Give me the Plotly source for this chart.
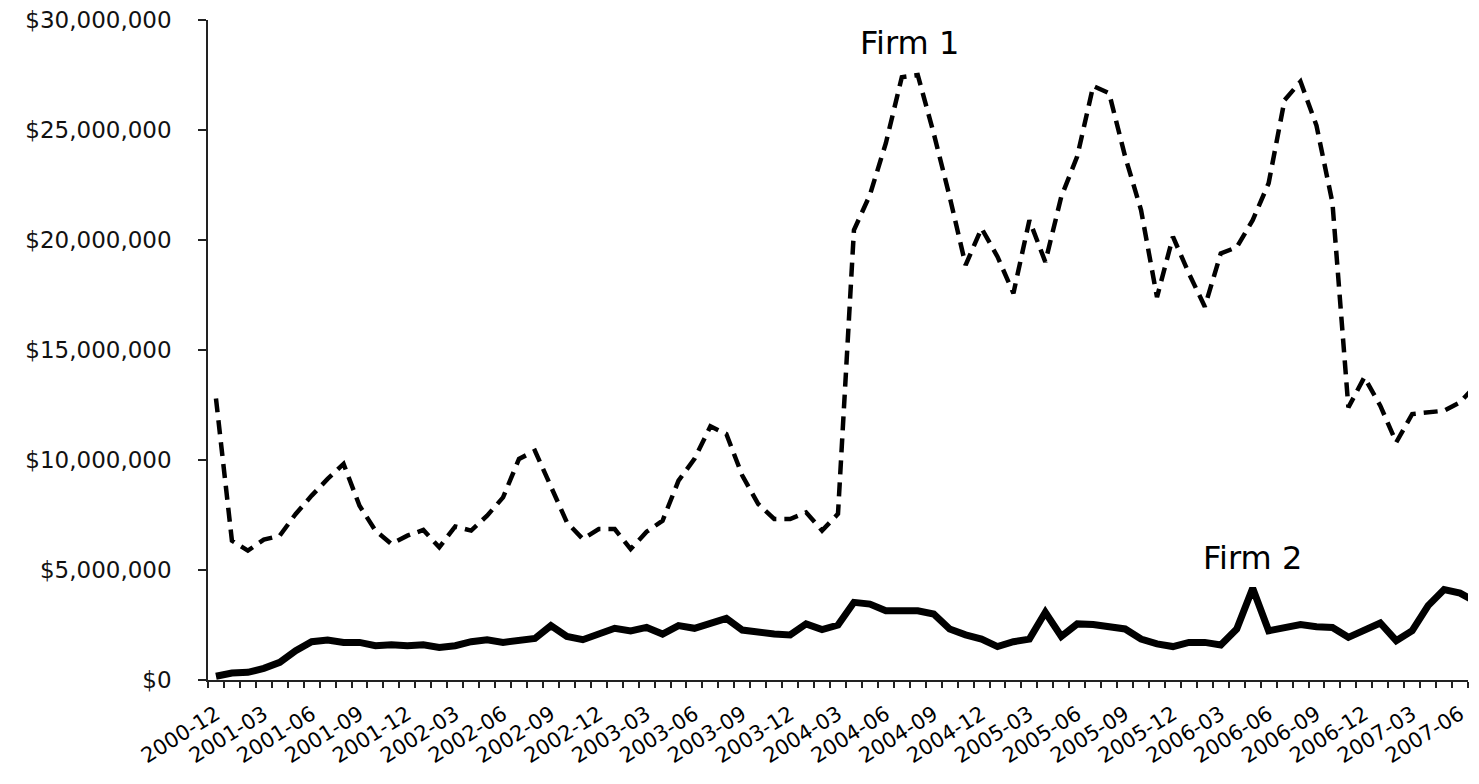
import plotly.graph_objects as go

# Monthly periods, 2000-12 through 2007-07 (last one only partly visible at the right edge)
months = [f"{2000 + (11 + k) // 12}-{(11 + k) % 12 + 1:02d}" for k in range(80)]

# Values in millions of dollars
firm1_m = [12.8, 6.33, 5.88, 6.38, 6.56, 7.55, 8.38, 9.14, 9.82, 7.92,
           6.79, 6.18, 6.56, 6.82, 6.03, 6.98, 6.79, 7.47, 8.30, 10.05,
           10.42, 8.83, 7.17, 6.41, 6.86, 6.86, 5.95, 6.74, 7.24, 9.06,
           10.05, 11.53, 11.18, 9.29, 8.00, 7.32, 7.32, 7.62, 6.79, 7.55,
           20.45, 22.05, 24.4, 27.4, 27.5, 24.85, 21.97, 18.86, 20.53, 19.24,
           17.58, 20.9, 19.0, 21.97, 23.8, 27.0, 26.67, 23.8, 21.36, 17.4,
           20.15, 18.48, 16.97, 19.39, 19.67, 20.9, 22.58, 26.36, 27.2, 25.2,
           21.7, 12.39, 13.76, 12.47, 10.8, 12.09, 12.17, 12.24, 12.62, 13.4]

firm2_m = [0.17, 0.32, 0.35, 0.53, 0.80, 1.33, 1.74, 1.82, 1.71, 1.71,
           1.56, 1.60, 1.56, 1.60, 1.48, 1.56, 1.74, 1.83, 1.71, 1.83,
           1.89, 2.47, 1.98, 1.83, 2.07, 2.35, 2.23, 2.39, 2.09, 2.47,
           2.35, 2.59, 2.80, 2.27, 2.15, 2.09, 2.05, 2.55, 2.29, 2.50,
           3.53, 3.45, 3.15, 3.15, 3.15, 3.00, 2.32, 2.05, 1.86, 1.52,
           1.74, 1.86, 3.08, 1.98, 2.55, 2.52, 2.44, 2.32, 1.86, 1.64,
           1.52, 1.71, 1.71, 1.59, 2.32, 4.17, 2.24, 2.42, 2.52, 2.42,
           2.39, 1.94, 2.27, 2.59, 1.79, 2.24, 3.38, 4.11, 3.95, 3.55]

series_names = ["Firm 1", "Firm 2"]
y_ticks = [0, 5e6, 10e6, 15e6, 20e6, 25e6, 30e6]
y_tick_text = ["$" + f"{v:,.0f}" for v in y_ticks]

x_idx = list(range(len(months)))
label_idx = list(range(0, 79, 3))
label_txt = [months[i] for i in label_idx]

FONT = "DejaVu Sans"

fig = go.Figure()
fig.add_trace(go.Scatter(
    x=x_idx, y=[v * 1e6 for v in firm1_m], mode="lines", name=series_names[0],
    line=dict(color="black", width=4.5, dash="14px,8px"), showlegend=False))
fig.add_trace(go.Scatter(
    x=x_idx, y=[v * 1e6 for v in firm2_m], mode="lines", name=series_names[1],
    line=dict(color="black", width=7), showlegend=False))

fig.add_annotation(x=43.5, y=28.95e6, text=series_names[0], showarrow=False,
                   font=dict(family=FONT, size=32, color="black"))
fig.add_annotation(x=65.0, y=5.55e6, text=series_names[1], showarrow=False,
                   font=dict(family=FONT, size=32, color="black"))

# the page body adds an 8px offset, so margins are trimmed on the top/left
fig.update_layout(
    width=1479, height=784,
    margin=dict(l=200, r=19, t=12, b=112),
    paper_bgcolor="white", plot_bgcolor="white",
    font=dict(family=FONT, color="black"),
)
fig.update_xaxes(
    range=[-0.5, 78.5], showgrid=False, zeroline=False, automargin=False,
    showline=True, linecolor="#222", linewidth=1.5,
    tickmode="array", tickvals=label_idx, ticktext=label_txt,
    ticks="", tickangle=-32, ticklabelstandoff=12, ticklabeloverflow="allow",
    tickfont=dict(family=FONT, size=21, color="black"),
    minor=dict(tick0=-0.5, dtick=1, ticks="outside", ticklen=6,
               tickwidth=1.5, tickcolor="#222"),
)
fig.update_yaxes(
    range=[0, 30e6], showgrid=False, zeroline=False, automargin=False,
    showline=True, linecolor="#222", linewidth=1.5,
    tickmode="array", tickvals=y_ticks, ticktext=y_tick_text,
    ticks="outside", ticklen=8, tickwidth=1.5, tickcolor="#222",
    ticklabelstandoff=22, ticklabeloverflow="allow",
    tickfont=dict(family=FONT, size=23, color="#111"),
)

fig.write_html("out.html")
